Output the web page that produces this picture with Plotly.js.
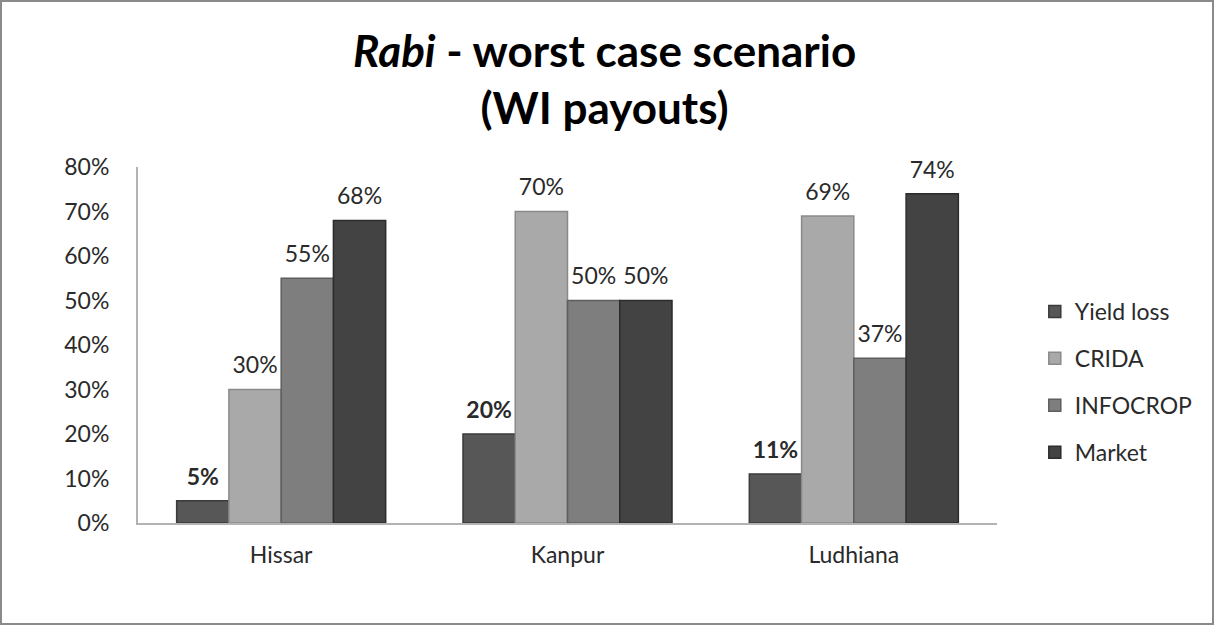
<!DOCTYPE html>
<html>
<head>
<meta charset="utf-8">
<script src="https://cdn.plot.ly/plotly-3.0.1.min.js"></script>
<style>
html,body{margin:0;padding:0;background:#fff;}
#chart{position:absolute;left:0;top:0;width:1214px;height:625px;}
#frame{position:absolute;left:0;top:0;width:1214px;height:625px;box-sizing:border-box;border:2px solid #8a8a8a;pointer-events:none;}
</style>
</head>
<body>
<div id="chart"></div>
<div id="frame"></div>
<script>
const categories = ["Hissar", "Kanpur", "Ludhiana"];
const seriesNames = ["Yield loss", "CRIDA", "INFOCROP", "Market"];
const yieldLoss = [0.05, 0.20, 0.11];
const crida = [0.30, 0.70, 0.69];
const infocrop = [0.55, 0.50, 0.37];
const market = [0.68, 0.50, 0.74];
const yTickVals = [0, 0.1, 0.2, 0.3, 0.4, 0.5, 0.6, 0.7, 0.8];
const yTickText = ["0%", "10%", "20%", "30%", "40%", "50%", "60%", "70%", "80%"];

const seriesValues = [yieldLoss, crida, infocrop, market];
const fills = ["#575757", "#a9a9a9", "#7e7e7e", "#434343"];
const edges = ["#3a3a3a", "#8a8a8a", "#5e5e5e", "#2c2c2c"];
const FONT = "Lato, 'Liberation Sans', sans-serif";

const barTraces = seriesValues.map((vals, i) => ({
  type: "bar",
  name: seriesNames[i],
  legendgroup: "g" + i,
  x: categories,
  y: vals,
  marker: {color: fills[i], line: {color: edges[i], width: 1.5}},
  hoverinfo: "x+y+name"
}));

const labelTraces = seriesValues.map((vals, i) => ({
  type: "scatter",
  mode: "markers+text",
  name: seriesNames[i],
  legendgroup: "g" + i,
  showlegend: false,
  x: categories,
  y: vals,
  marker: {size: 15, opacity: 0, color: fills[i]},
  text: vals.map(v => Math.round(v * 100) + "%"),
  texttemplate: i === 0 ? "<b>%{text}</b>" : "%{text}",
  textposition: "top center",
  cliponaxis: false,
  textfont: {family: FONT, size: 23, color: "#2a2a2a"},
  hoverinfo: "skip"
}));

const layout = {
  width: 1214,
  height: 625,
  paper_bgcolor: "#ffffff",
  plot_bgcolor: "#ffffff",
  margin: {l: 138, r: 217, t: 167, b: 102},
  font: {family: FONT, size: 23, color: "#2a2a2a"},
  title: {
    text: "<i>Rabi</i> - worst case scenario<br>(WI payouts)",
    font: {family: FONT, size: 44, color: "#000000", weight: "bold"},
    x: 0.498, xanchor: "center",
    yref: "container", y: 0.893, yanchor: "middle"
  },
  barmode: "group",
  scattermode: "group",
  bargap: 0.27,
  bargroupgap: 0,
  scattergap: 0.27,
  xaxis: {
    showline: true, linecolor: "#b3b3b3", linewidth: 2,
    ticks: "", showgrid: false, zeroline: false,
    tickfont: {family: FONT, size: 23, color: "#2a2a2a"},
    ticklabelstandoff: 10
  },
  yaxis: {
    range: [0, 0.8],
    tickvals: yTickVals, ticktext: yTickText,
    showline: true, linecolor: "#b3b3b3", linewidth: 2,
    ticks: "", showgrid: false, zeroline: false,
    tickfont: {family: FONT, size: 23, color: "#2a2a2a"},
    ticklabelstandoff: 22
  },
  legend: {
    x: 1.044, xanchor: "left",
    y: 0.396, yanchor: "middle",
    traceorder: "grouped",
    tracegroupgap: 14,
    font: {family: FONT, size: 23, color: "#2a2a2a"},
    bgcolor: "rgba(0,0,0,0)"
  },
  showlegend: true
};

Plotly.newPlot("chart", barTraces.concat(labelTraces), layout, {displayModeBar: false});
</script>
</body>
</html>
